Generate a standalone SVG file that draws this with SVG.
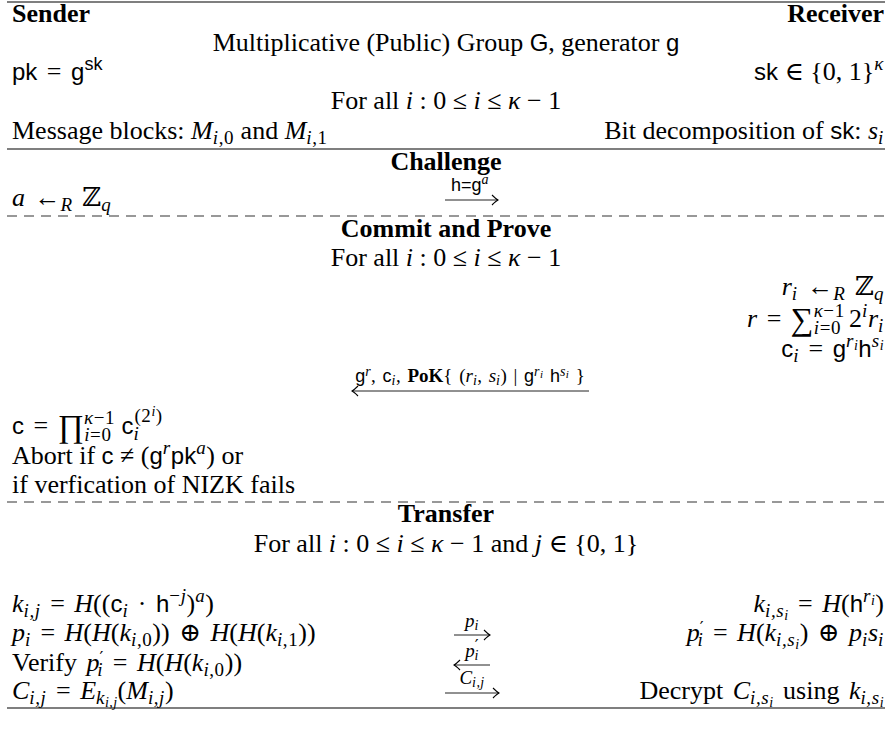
<svg xmlns="http://www.w3.org/2000/svg" width="892" height="736" viewBox="0 0 892 736">
<defs>
<style>
.t{font-family:"Liberation Serif","DejaVu Serif",serif;font-size:26px;fill:#000}
.b{font-weight:bold}
.i{font-style:italic}
.m{word-spacing:3px}
.sf{font-family:"Liberation Sans","DejaVu Sans",sans-serif;font-size:24px;font-style:normal}
.s{font-size:19px;letter-spacing:.6px}
.ss{font-size:14px;letter-spacing:.4px}
.pr{font-family:"DejaVu Serif",serif;font-size:17px;font-style:normal}
.lab{font-size:19px;word-spacing:2px}
.sfs{font-family:"Liberation Sans","DejaVu Sans",sans-serif;font-size:18px;font-style:normal}
.bb{font-family:"DejaVu Serif",serif;font-style:normal}
.big{font-size:32px}
.rule{stroke:#000;stroke-width:1.1}
.dash{stroke:#777;stroke-width:1.4;stroke-dasharray:10 7}
.arr{stroke:#222;stroke-width:1;fill:none;marker-end:url(#ah)}
</style>
<marker id="ah" viewBox="-8 -6 9 12" refX="0" refY="0" markerWidth="9" markerHeight="12" markerUnits="userSpaceOnUse" orient="auto">
<path d="M-6,-5 Q-2,-1 0,0 Q-2,1 -6,5" fill="none" stroke="#000" stroke-width="1.1"/>
</marker>
</defs>
<rect width="892" height="736" fill="#fff"/>

<g id="rules">
<line class="rule" x1="7" y1="2" x2="885" y2="2"/>
<line class="rule" x1="7" y1="149" x2="885" y2="149"/>
<line class="dash" x1="7" y1="216" x2="885" y2="216"/>
<line class="dash" x1="7" y1="502" x2="885" y2="502"/>
<line class="rule" x1="7" y1="708" x2="885" y2="708"/>
</g>

<g id="setup">
<text class="t b" x="12" y="22">Sender</text>
<text class="t b" x="884" y="22" text-anchor="end">Receiver</text>
<text class="t" x="446" y="51" text-anchor="middle">Multiplicative (Public) Group <tspan class="sf">G</tspan>, generator <tspan class="sf">g</tspan></text>
<text class="t m" x="12" y="80"><tspan class="sf">pk</tspan> = <tspan class="sf">g</tspan><tspan class="sfs" dy="-10">sk</tspan></text>
<text class="t" x="884" y="80" text-anchor="end"><tspan class="sf">sk</tspan> ∈ {0, 1}<tspan class="i s" dy="-10">κ</tspan></text>
<text class="t" x="446" y="109" text-anchor="middle">For all <tspan class="i">i</tspan> : 0 ≤ <tspan class="i">i</tspan> ≤ <tspan class="i">κ</tspan> − 1</text>
<text class="t" x="12" y="139">Message blocks: <tspan class="i">M</tspan><tspan class="s" dy="5"><tspan class="i">i</tspan>,0</tspan><tspan dy="-5"> and </tspan><tspan class="i">M</tspan><tspan class="s" dy="5"><tspan class="i">i</tspan>,1</tspan></text>
<text class="t" x="884" y="139" text-anchor="end">Bit decomposition of <tspan class="sf">sk</tspan>: <tspan class="i">s</tspan><tspan class="i s" dy="5">i</tspan></text>
</g>

<g id="challenge">
<text class="t b" x="446" y="170" text-anchor="middle">Challenge</text>
<text class="t m" x="12" y="206"><tspan class="i">a</tspan> ←<tspan class="i s" dy="5">R</tspan><tspan dy="-5"> </tspan><tspan class="bb">ℤ</tspan><tspan class="i s" dy="5">q</tspan></text>
<text class="t" x="470" y="191" text-anchor="middle"><tspan class="sfs">h=g</tspan><tspan class="i ss" dy="-7">a</tspan></text>
</g>

<g id="commit">
<text class="t b" x="446" y="237" text-anchor="middle">Commit and Prove</text>
<text class="t" x="446" y="266" text-anchor="middle">For all <tspan class="i">i</tspan> : 0 ≤ <tspan class="i">i</tspan> ≤ <tspan class="i">κ</tspan> − 1</text>
<text class="t m" x="884" y="295" text-anchor="end"><tspan class="i">r</tspan><tspan class="i s" dy="5">i</tspan><tspan dy="-5"> ←</tspan><tspan class="i s" dy="5">R</tspan><tspan dy="-5"> </tspan><tspan class="bb">ℤ</tspan><tspan class="i s" dy="5">q</tspan></text>
<text class="t m" x="884" y="327" text-anchor="end"><tspan class="i">r</tspan> = <tspan class="big" dy="3">∑</tspan><tspan class="s" dy="-13"><tspan class="i">κ</tspan>−1</tspan><tspan class="s" dx="-31" dy="17"><tspan class="i">i</tspan>=0</tspan><tspan dx="8" dy="-7">2</tspan><tspan class="i s" dy="-10">i</tspan><tspan class="i" dy="10">r</tspan><tspan class="i s" dy="5">i</tspan></text>
<text class="t m" x="884" y="357" text-anchor="end"><tspan class="sf">c</tspan><tspan class="i s" dy="5">i</tspan><tspan dy="-5"> = </tspan><tspan class="sf">g</tspan><tspan class="i s" dy="-10">r</tspan><tspan class="i ss" dy="3">i</tspan><tspan class="sf" dy="7">h</tspan><tspan class="i s" dy="-10">s</tspan><tspan class="i ss" dy="3">i</tspan></text>
<text class="t lab" x="470" y="382" text-anchor="middle"><tspan class="sfs">g</tspan><tspan class="i ss" dy="-6">r</tspan><tspan dy="6">, </tspan><tspan class="sfs">c</tspan><tspan class="i ss" dy="3">i</tspan><tspan dy="-3">, </tspan><tspan class="b">PoK</tspan>{ (<tspan class="i">r</tspan><tspan class="i ss" dy="3">i</tspan><tspan dy="-3">, </tspan><tspan class="i">s</tspan><tspan class="i ss" dy="3">i</tspan><tspan dy="-3">) | </tspan><tspan class="sfs">g</tspan><tspan class="i ss" dy="-6">r</tspan><tspan class="i" font-size="11" dy="2">i</tspan><tspan class="sfs" dy="4"> h</tspan><tspan class="i ss" dy="-6">s</tspan><tspan class="i" font-size="11" dy="2">i</tspan><tspan dy="4">  }</tspan></text>
<text class="t m" x="12" y="434"><tspan class="sf">c</tspan> = <tspan class="big" dy="3">∏</tspan><tspan class="s" dy="-13"><tspan class="i">κ</tspan>−1</tspan><tspan class="s" dx="-31" dy="17"><tspan class="i">i</tspan>=0</tspan><tspan class="sf" dx="10" dy="-7">c</tspan><tspan class="i s" dy="6">i</tspan><tspan class="s" dx="-5" dy="-18">(2</tspan><tspan class="i ss" dy="-6">i</tspan><tspan class="s" dy="6">)</tspan></text>
<text class="t" x="12" y="464">Abort if <tspan class="sf">c</tspan> ≠ (<tspan class="sf">g</tspan><tspan class="i s" dy="-10">r</tspan><tspan class="sf" dy="10">pk</tspan><tspan class="i s" dy="-10">a</tspan><tspan dy="10">) or</tspan></text>
<text class="t" x="12" y="493">if verfication of NIZK fails</text>
</g>

<g id="transfer">
<text class="t b" x="446" y="522" text-anchor="middle">Transfer</text>
<text class="t" x="446" y="552" text-anchor="middle">For all <tspan class="i">i</tspan> : 0 ≤ <tspan class="i">i</tspan> ≤ <tspan class="i">κ</tspan> − 1 and <tspan class="i">j</tspan> ∈ {0, 1}</text>
<text class="t m" x="12" y="612"><tspan class="i">k</tspan><tspan class="i s" dy="5">i,j</tspan><tspan dy="-5"> = </tspan><tspan class="i">H</tspan>((<tspan class="sf">c</tspan><tspan class="i s" dy="5">i</tspan><tspan dy="-5"> · </tspan><tspan class="sf">h</tspan><tspan class="s" dy="-10">−<tspan class="i">j</tspan></tspan><tspan dy="10">)</tspan><tspan class="i s" dy="-10">a</tspan><tspan dy="10">)</tspan></text>
<text class="t m" x="884" y="612" text-anchor="end"><tspan class="i">k</tspan><tspan class="i s" dy="5">i,s</tspan><tspan class="i ss" dy="3">i</tspan><tspan dy="-8"> = </tspan><tspan class="i">H</tspan>(<tspan class="sf">h</tspan><tspan class="i s" dy="-10">r</tspan><tspan class="i ss" dy="3">i</tspan><tspan dy="7">)</tspan></text>
<text class="t m" x="12" y="641"><tspan class="i">p</tspan><tspan class="i s" dy="5">i</tspan><tspan dy="-5"> = </tspan><tspan class="i">H</tspan>(<tspan class="i">H</tspan>(<tspan class="i">k</tspan><tspan class="s" dy="5"><tspan class="i">i</tspan>,0</tspan><tspan dy="-5">)) ⊕ </tspan><tspan class="i">H</tspan>(<tspan class="i">H</tspan>(<tspan class="i">k</tspan><tspan class="s" dy="5"><tspan class="i">i</tspan>,1</tspan><tspan dy="-5">))</tspan></text>
<text class="t m" x="884" y="641" text-anchor="end"><tspan class="i">p</tspan><tspan class="pr" dy="-8">′</tspan><tspan class="i s" dx="-6" dy="13">i</tspan><tspan dy="-5"> = </tspan><tspan class="i">H</tspan>(<tspan class="i">k</tspan><tspan class="i s" dy="5">i,s</tspan><tspan class="i ss" dy="3">i</tspan><tspan dy="-8">) ⊕ </tspan><tspan class="i">p</tspan><tspan class="i s" dy="5">i</tspan><tspan class="i" dy="-5">s</tspan><tspan class="i s" dy="5">i</tspan></text>
<text class="t m" x="12" y="671">Verify <tspan class="i">p</tspan><tspan class="pr" dy="-8">′</tspan><tspan class="i s" dx="-6" dy="13">i</tspan><tspan dy="-5"> = </tspan><tspan class="i">H</tspan>(<tspan class="i">H</tspan>(<tspan class="i">k</tspan><tspan class="s" dy="5"><tspan class="i">i</tspan>,0</tspan><tspan dy="-5">))</tspan></text>
<text class="t m" x="12" y="699"><tspan class="i">C</tspan><tspan class="i s" dy="5">i,j</tspan><tspan dy="-5"> = </tspan><tspan class="i">E</tspan><tspan class="i s" dy="5">k</tspan><tspan class="i ss" dy="3">i,j</tspan><tspan dy="-8">(</tspan><tspan class="i">M</tspan><tspan class="i s" dy="5">i,j</tspan><tspan dy="-5">)</tspan></text>
<text class="t m" x="884" y="699" text-anchor="end">Decrypt <tspan class="i">C</tspan><tspan class="i s" dy="5">i,s</tspan><tspan class="i ss" dy="3">i</tspan><tspan dy="-8"> using </tspan><tspan class="i">k</tspan><tspan class="i s" dy="5">i,s</tspan><tspan class="i ss" dy="3">i</tspan></text>
<text class="t lab" x="472" y="627" text-anchor="middle"><tspan class="i">p</tspan><tspan class="i ss" dy="3">i</tspan></text>
<text class="t lab" x="472" y="657" text-anchor="middle"><tspan class="i">p</tspan><tspan class="pr" font-size="13" dy="-6">′</tspan><tspan class="i ss" dx="-4" dy="9">i</tspan></text>
<text class="t lab" x="472" y="684" text-anchor="middle"><tspan class="i">C</tspan><tspan class="i ss" dy="3">i,j</tspan></text>
</g>

<g id="connectors">
<line class="arr" x1="445" y1="200" x2="498" y2="200"/>
<line class="arr" x1="589" y1="391" x2="352" y2="391"/>
<line class="arr" x1="454" y1="635" x2="490" y2="635"/>
<line class="arr" x1="490" y1="665" x2="454" y2="665"/>
<line class="arr" x1="445" y1="693" x2="499" y2="693"/>
</g>
</svg>
